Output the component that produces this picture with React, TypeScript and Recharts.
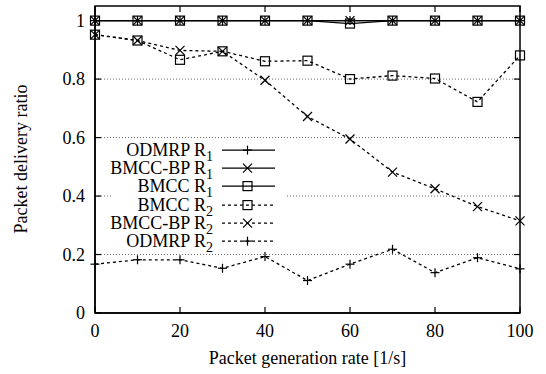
import React from 'react';
import { LineChart, Line, XAxis, YAxis, CartesianGrid } from 'recharts';

const rates = [0, 10, 20, 30, 40, 50, 60, 70, 80, 90, 100];
const odmrpR1 = [1, 1, 1, 1, 1, 1, 1, 1, 1, 1, 1];
const bmccbpR1 = [1, 1, 1, 1, 1, 1, 1, 1, 1, 1, 1];
const bmccR1 = [1, 1, 1, 1, 1, 1, 0.99, 1, 1, 1, 1];
const bmccR2 = [0.952, 0.932, 0.866, 0.895, 0.861, 0.863, 0.8, 0.812, 0.802, 0.722, 0.881];
const bmccbpR2 = [0.952, 0.932, 0.898, 0.895, 0.796, 0.672, 0.595, 0.482, 0.425, 0.364, 0.315];
const odmrpR2 = [0.167, 0.182, 0.182, 0.153, 0.193, 0.111, 0.167, 0.218, 0.138, 0.189, 0.151];

const xTicks = [0, 20, 40, 60, 80, 100];
const yTicks = [0, 0.2, 0.4, 0.6, 0.8, 1];
const xDomain: [number, number] = [0, 100];
const yDomain: [number, number] = [0, 1.05];

type MarkerKind = 'plus' | 'cross' | 'square';

const series: { key: string; base: string; sub: string; marker: MarkerKind; dashed: boolean; values: number[] }[] = [
  { key: 'odmrpR1', base: 'ODMRP R', sub: '1', marker: 'plus', dashed: false, values: odmrpR1 },
  { key: 'bmccbpR1', base: 'BMCC-BP R', sub: '1', marker: 'cross', dashed: false, values: bmccbpR1 },
  { key: 'bmccR1', base: 'BMCC R', sub: '1', marker: 'square', dashed: false, values: bmccR1 },
  { key: 'bmccR2', base: 'BMCC R', sub: '2', marker: 'square', dashed: true, values: bmccR2 },
  { key: 'bmccbpR2', base: 'BMCC-BP R', sub: '2', marker: 'cross', dashed: true, values: bmccbpR2 },
  { key: 'odmrpR2', base: 'ODMRP R', sub: '2', marker: 'plus', dashed: true, values: odmrpR2 },
];

const data = rates.map((r, i) => {
  const row: Record<string, number> = { rate: r };
  series.forEach((s) => {
    row[s.key] = s.values[i];
  });
  return row;
});

// layout
const W = 546;
const HT = 374;
const MARGIN = { top: 6, right: 26, left: 0, bottom: 0 };
const Y_AXIS_W = 95;
const X_AXIS_H = 61;
const PLOT = {
  left: MARGIN.left + Y_AXIS_W,
  top: MARGIN.top,
  right: W - MARGIN.right,
  bottom: HT - MARGIN.bottom - X_AXIS_H,
};

const FONT = '"Liberation Serif", "DejaVu Serif", "Times New Roman", serif';
const DASH = '3 3';
const H = 4.5;

function Marker({ kind, cx, cy }: { kind: MarkerKind; cx: number; cy: number }) {
  const sp = { stroke: '#000', strokeWidth: 1.2, fill: 'none' };
  if (kind === 'plus') {
    return (
      <g>
        <line x1={cx - H} y1={cy} x2={cx + H} y2={cy} {...sp} />
        <line x1={cx} y1={cy - H} x2={cx} y2={cy + H} {...sp} />
      </g>
    );
  }
  if (kind === 'cross') {
    return (
      <g>
        <line x1={cx - H} y1={cy - H} x2={cx + H} y2={cy + H} {...sp} />
        <line x1={cx - H} y1={cy + H} x2={cx + H} y2={cy - H} {...sp} />
      </g>
    );
  }
  return <rect x={cx - H} y={cy - H} width={2 * H} height={2 * H} {...sp} />;
}

const X_MARGIN = 11;
const Y_MARGIN = 10;
const TICK_LEN = 6;

function BottomTick(props: any) {
  const { x, y, payload } = props;
  const axisY = y - X_MARGIN;
  return (
    <g>
      <line x1={x} y1={axisY} x2={x} y2={axisY - TICK_LEN} stroke="#000" strokeWidth={1.2} />
      <text x={x} y={y} dy="0.71em" textAnchor="middle" fontFamily={FONT} fontSize={18} fill="#000">
        {String(payload.value)}
      </text>
    </g>
  );
}

function LeftTick(props: any) {
  const { x, y, payload } = props;
  const axisX = x + Y_MARGIN;
  return (
    <g>
      <line x1={axisX} y1={y} x2={axisX + TICK_LEN} y2={y} stroke="#000" strokeWidth={1.2} />
      <text x={x} y={y} dy="0.355em" textAnchor="end" fontFamily={FONT} fontSize={18} fill="#000">
        {String(payload.value)}
      </text>
    </g>
  );
}

// Top and right frame borders with mirrored inward ticks (overlay)
function FrameOverlay() {
  const pw = PLOT.right - PLOT.left;
  const ph = PLOT.bottom - PLOT.top;
  const sx = (v: number) => PLOT.left + ((v - xDomain[0]) / (xDomain[1] - xDomain[0])) * pw;
  const sy = (v: number) => PLOT.bottom - ((v - yDomain[0]) / (yDomain[1] - yDomain[0])) * ph;
  return (
    <svg
      width={W}
      height={HT}
      style={{ position: 'absolute', left: 0, top: 0, pointerEvents: 'none' }}
    >
      <rect x={PLOT.left} y={PLOT.top} width={pw} height={ph} fill="none" stroke="#000" strokeWidth={1.5} />
      {xTicks.map((t) => (
        <line key={`tt${t}`} x1={sx(t)} y1={PLOT.top} x2={sx(t)} y2={PLOT.top + TICK_LEN} stroke="#000" strokeWidth={1.2} />
      ))}
      {yTicks.map((t) => (
        <line
          key={`rt${t}`}
          x1={PLOT.right}
          y1={sy(t)}
          x2={PLOT.right - TICK_LEN}
          y2={sy(t)}
          stroke="#000"
          strokeWidth={1.2}
        />
      ))}
    </svg>
  );
}

function Legend() {
  return (
    <div
      style={{
        position: 'absolute',
        left: 111,
        top: 141,
        width: 175,
        height: 110,
        background: '#fff',
        fontFamily: FONT,
        fontSize: 18,
        color: '#000',
      }}
    >
      {series.map((s, i) => (
        <div key={s.key} style={{ position: 'absolute', left: 0, top: i * 18.2, width: 175, height: 18.2 }}>
          <span
            style={{
              position: 'absolute',
              right: 73,
              top: 0,
              whiteSpace: 'nowrap',
              lineHeight: '18.2px',
            }}
          >
            {s.base}
            <span style={{ fontSize: 14, position: 'relative', top: 5 }}>{s.sub}</span>
          </span>
          <svg width={54} height={18} style={{ position: 'absolute', left: 111, top: 0 }}>
            <line
              x1={0}
              y1={9.1}
              x2={53}
              y2={9.1}
              stroke="#000"
              strokeWidth={1.3}
              strokeDasharray={s.dashed ? DASH : undefined}
            />
            <Marker kind={s.marker} cx={25.5} cy={9.1} />
          </svg>
        </div>
      ))}
    </div>
  );
}

export default function App() {
  return (
    <div style={{ position: 'absolute', left: 0, top: 0, width: W, height: HT, background: '#fff' }}>
      <LineChart width={W} height={HT} data={data} margin={MARGIN}>
        <CartesianGrid
          vertical={false}
          horizontalValues={yTicks}
          stroke="#444"
          strokeWidth={0.8}
          strokeDasharray="1 2"
        />
        <XAxis
          dataKey="rate"
          type="number"
          domain={xDomain}
          ticks={xTicks}
          orientation="bottom"
          height={X_AXIS_H}
          tickSize={0}
          tickMargin={X_MARGIN}
          tickLine={false}
          tick={<BottomTick />}
          axisLine={{ stroke: '#000', strokeWidth: 1.5 }}
          label={{
            content: () => (
              <text x={307.5} y={364} textAnchor="middle" fontFamily={FONT} fontSize={18} fill="#000">
                Packet generation rate [1/s]
              </text>
            ),
          }}
        />
        <YAxis
          type="number"
          domain={yDomain}
          ticks={yTicks}
          orientation="left"
          width={Y_AXIS_W}
          tickSize={0}
          tickMargin={Y_MARGIN}
          tickLine={false}
          tick={<LeftTick />}
          axisLine={{ stroke: '#000', strokeWidth: 1.5 }}
          label={{
            content: () => (
              <text
                x={0}
                y={0}
                transform="translate(27,159) rotate(-90)"
                textAnchor="middle"
                fontFamily={FONT}
                fontSize={18}
                fill="#000"
              >
                Packet delivery ratio
              </text>
            ),
          }}
        />
        {series.map((s) => (
          <Line
            key={s.key}
            dataKey={s.key}
            type="linear"
            stroke="#000"
            strokeWidth={1.3}
            strokeDasharray={s.dashed ? DASH : undefined}
            isAnimationActive={false}
            dot={(p: any) => <Marker key={`${s.key}-${p.index}`} kind={s.marker} cx={p.cx} cy={p.cy} />}
            activeDot={false}
          />
        ))}
      </LineChart>
      <FrameOverlay />
      <Legend />
    </div>
  );
}
